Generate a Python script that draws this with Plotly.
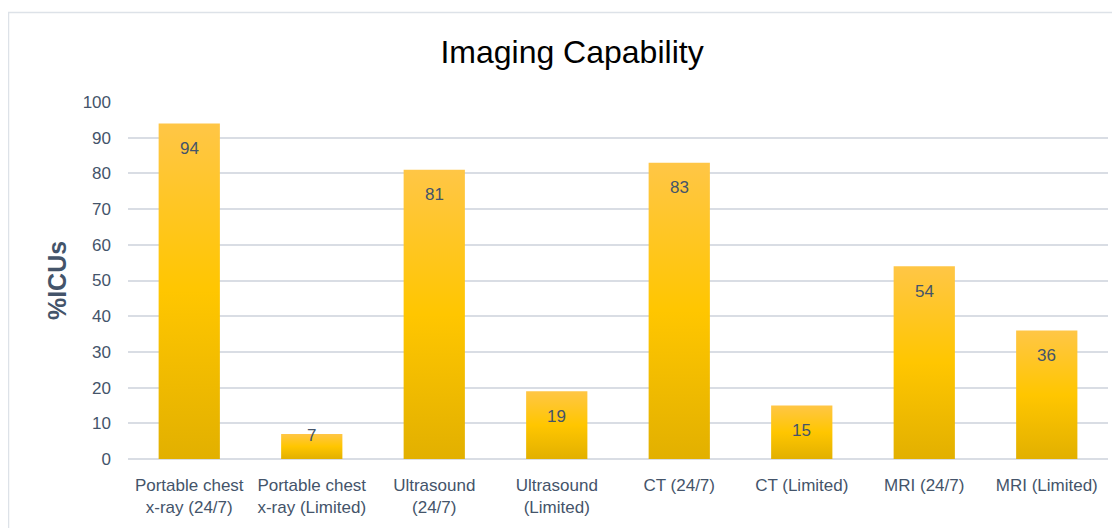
import plotly.graph_objects as go

categories = ["Portable chest<br>x-ray (24/7)", "Portable chest<br>x-ray (Limited)",
              "Ultrasound<br>(24/7)", "Ultrasound<br>(Limited)", "CT (24/7)",
              "CT (Limited)", "MRI (24/7)", "MRI (Limited)"]
values = [94, 7, 81, 19, 83, 15, 54, 36]
y_ticks = [0, 10, 20, 30, 40, 50, 60, 70, 80, 90, 100]

TEXT = "#44546A"
GRID = "#D9DDE4"
BAR_W = 0.5
grad = [[0.0, "#E2B000"], [0.5, "#FFC600"], [1.0, "#FFC646"]]

# figure is drawn with an 8px page offset
L, R, T, B = 120, 20, 94, 77
PLOT_W = 1120 - L - R
PLOT_H = 528 - T - B

fig = go.Figure()
for i, (c, v) in enumerate(zip(categories, values)):
    xs = [i - BAR_W / 2, i + BAR_W / 2, i + BAR_W / 2, i - BAR_W / 2, i - BAR_W / 2]
    ys = [0, 0, v, v, 0]
    fig.add_trace(go.Scatter(
        x=xs, y=ys, mode="lines", fill="toself",
        line=dict(width=0, color="rgba(0,0,0,0)"),
        fillgradient=dict(type="vertical", colorscale=grad),
        name=c.replace("<br>", " "), showlegend=False, hoverinfo="skip",
    ))

# data labels (inside end)
PX_PER_UNIT = PLOT_H / 100
for i, v in enumerate(values):
    bar_px = v * PX_PER_UNIT
    shift = -25 if bar_px > 50 else -1
    fig.add_annotation(x=i, y=v, text=str(v), showarrow=False, yshift=shift,
                       yanchor="middle", xanchor="center",
                       font=dict(family="Liberation Sans, Arial", size=17, color=TEXT))

fig.update_layout(
    width=1120, height=528,
    margin=dict(l=L, r=R, t=T, b=B),
    paper_bgcolor="white", plot_bgcolor="white",
    title=dict(text="Imaging Capability", x=(441 + 703) / 2 / 1120 - 8 / 1120, xanchor="center",
               y=1 - 44 / 528, yanchor="middle", yref="container",
               font=dict(family="Liberation Sans, Arial", size=32, color="#000000")),
    font=dict(family="Liberation Sans, Arial", size=17, color=TEXT),
    showlegend=False,
)
fig.update_xaxes(
    range=[-0.5, len(categories) - 0.5],
    tickmode="array", tickvals=list(range(len(categories))), ticktext=categories,
    showgrid=False, zeroline=False, showline=False,
    tickfont=dict(size=17, color=TEXT), ticks="", ticklabelstandoff=14,
)
fig.update_yaxes(
    range=[0, 100], tickmode="array", tickvals=y_ticks,
    showgrid=True, gridcolor=GRID, gridwidth=1.5,
    zeroline=True, zerolinecolor=GRID, zerolinewidth=1.5,
    showline=False, ticks="", ticklabelstandoff=16,
    tickfont=dict(size=17, color=TEXT),
    title=dict(text="<b>%ICUs</b>", standoff=8,
               font=dict(family="Liberation Sans, Arial", size=25, color=TEXT)),
)

# outer frame (light border of the chart area)
x0 = (0.5 - L) / PLOT_W
y1 = (528 - B - 4.5) / PLOT_H
fig.add_shape(type="rect", xref="paper", yref="paper", x0=x0, x1=1.2, y0=-0.5, y1=y1,
              line=dict(color="#DDE2E8", width=1.5), fillcolor="rgba(0,0,0,0)", layer="below")

fig.write_html("out.html")
